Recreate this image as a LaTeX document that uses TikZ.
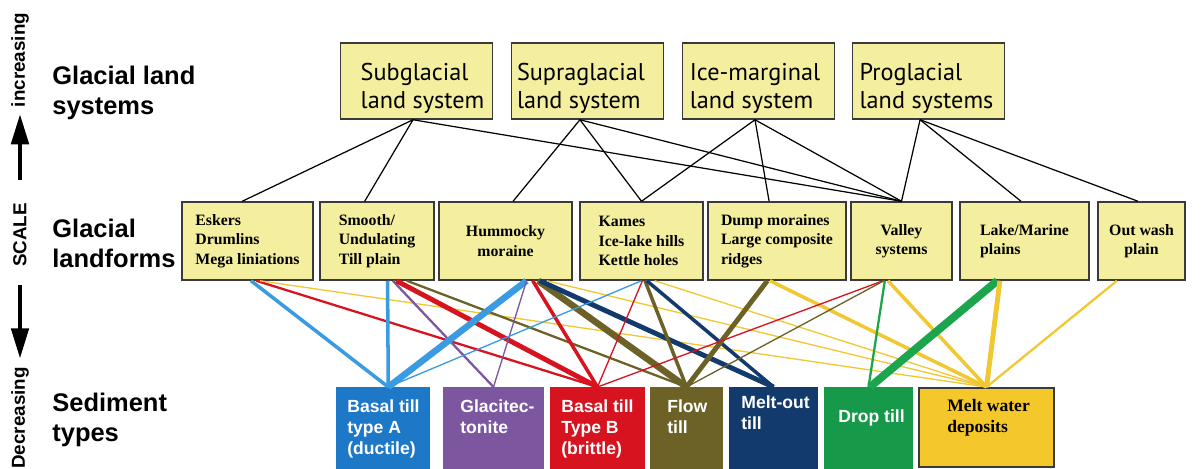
\documentclass[tikz,border=0pt]{standalone}
\usepackage{fontspec}
\setmainfont{Liberation Serif}
\setsansfont{Liberation Sans}
\newfontfamily\myriadish{PT Sans}
\usetikzlibrary{arrows.meta}

\definecolor{formfill}{HTML}{F4EF9F}
\definecolor{framegray}{HTML}{3A3A3A}
\definecolor{tillAbox}{HTML}{1E78C8}
\definecolor{tillAline}{HTML}{3A9BE0}
\definecolor{glacit}{HTML}{7D56A0}
\definecolor{tillB}{HTML}{D6131F}
\definecolor{flowtill}{HTML}{6C6127}
\definecolor{meltout}{HTML}{123A6C}
\definecolor{droptill}{HTML}{17994A}
\definecolor{dropline}{HTML}{1BA54C}
\definecolor{meltwater}{HTML}{F4C72A}
\definecolor{waterline}{HTML}{F2C832}

\tikzset{
  sysbox/.style={draw=framegray, line width=0.85pt, fill=formfill, minimum width=3.04cm, minimum height=1.52cm, inner sep=0pt},
  systext/.style={font=\myriadish\fontsize{13.8}{16}\selectfont, align=left, inner sep=0pt},
  formbox/.style={draw=framegray, line width=0.85pt, fill=formfill, minimum height=1.56cm, inner sep=0pt, font=\bfseries\fontsize{9}{11.1}\selectfont},
  sedbox/.style={minimum height=1.66cm, inner sep=0pt, anchor=north},
  sedtext/.style={font=\sffamily\bfseries\fontsize{10}{12}\selectfont, text=white, align=left, inner sep=0pt, anchor=north west},
  rowlabel/.style={font=\sffamily\bfseries\fontsize{14.5}{17}\selectfont, align=left, inner sep=0pt, anchor=west},
  scaletext/.style={font=\sffamily\bfseries\fontsize{10.7}{13}\selectfont, rotate=90, inner sep=0pt},
  scalearrow/.style={line width=1.8pt, -{Triangle[length=17pt,width=10pt]}},
  sysline/.style={line width=0.7pt, black},
  lw1/.style={line width=0.75pt},
  lw2/.style={line width=1.3pt},
  lw3/.style={line width=2pt},
  lw4/.style={line width=2.8pt},
  lw5/.style={line width=3.7pt},
  lw6/.style={line width=4.5pt}
}

\begin{document}
\begin{tikzpicture}[x=0.02cm, y=-0.02cm]
			%%%%% START %%%%%
			\useasboundingbox (0,0) rectangle (1202,468);
			\fill[white] (0,0) rectangle (1202,468);
			
			\node[scaletext] (incr) at (20,60) {increasing};
			\node[scaletext] (scl) at (20,235) {SCALE};
			\node[scaletext] (decr) at (20,418) {Decreasing};
			\draw[scalearrow, shorten <=13pt, shorten >=4pt] (scl.east) -- (incr.west);
			\draw[scalearrow, shorten <=10pt, shorten >=5pt] (scl.west) -- (decr.east);
			
			\node[rowlabel] (lsys) at (52,93) {Glacial land\\systems};
			\node[rowlabel] (lform) at (52,243) {Glacial\\landforms};
			\node[rowlabel] (lsed) at (52,420) {Sediment\\types};
			
			\node[sysbox] (sub) at (416.5,81) {};
			\node[sysbox] (sup) at (587.5,81) {};
			\node[sysbox] (ice) at (758.5,81) {};
			\node[sysbox] (pro) at (928.5,81) {};
			\node[systext] (subt) at (422.5,88.5) {Subglacial\\land system};
			\node[systext] (supt) at (581,88.5) {Supraglacial\\land system};
			\node[systext] (icet) at (755,88.5) {Ice-marginal\\land system};
			\node[systext] (prot) at (926.5,88.5) {Proglacial\\land systems};
			
			\node[formbox, minimum width=2.62cm, align=left] (esk) at (247.5,241) {Eskers\\Drumlins\\Mega liniations};
			\node[formbox, minimum width=2.28cm, align=left] (smo) at (377,241) {Smooth/\\Undulating\\Till plain};
			\node[formbox, minimum width=2.66cm, align=center] (hum) at (505.5,241) {Hummocky\\moraine};
			\node[formbox, minimum width=2.46cm, align=left] (kam) at (641.5,241) {Kames\\Ice-lake hills\\Kettle holes};
			\node[formbox, minimum width=2.76cm, align=left] (dum) at (777,241) {Dump moraines\\Large composite\\ridges};
			\node[formbox, minimum width=2.02cm, align=center] (val) at (901.5,241) {Valley\\systems};
			\node[formbox, minimum width=2.58cm, align=left] (lak) at (1024.5,241) {Lake/Marine\\plains};
			\node[formbox, minimum width=1.74cm, align=center] (out) at (1141.5,241) {Out wash\\plain};
			
			\node[sedbox, fill=tillAbox, minimum width=1.88cm] (tA) at (383,387) {};
			\node[sedbox, fill=glacit, minimum width=2.02cm] (gl) at (493.5,387) {};
			\node[sedbox, fill=tillB, minimum width=1.90cm] (tB) at (597.5,387) {};
			\node[sedbox, fill=flowtill, minimum width=1.46cm] (fl) at (686.5,387) {};
			\node[sedbox, fill=meltout, minimum width=1.78cm] (mo) at (773.5,387) {};
			\node[sedbox, fill=droptill, minimum width=1.78cm] (dr) at (868.5,387) {};
			\node[sedbox, fill=meltwater, draw=framegray, line width=1pt, minimum width=2.7cm, minimum height=1.58cm] (mw) at (986.5,387) {};
			\node[sedtext] (tAt) at (347,399) {Basal till\\type A\\(ductile)};
			\node[sedtext] (glt) at (460,399) {Glacitec-\\tonite};
			\node[sedtext] (tBt) at (561,399) {Basal till\\Type B\\(brittle)};
			\node[sedtext] (flt) at (667,399) {Flow\\till};
			\node[sedtext] (mot) at (741,395) {Melt-out\\till};
			\node[sedtext] (drt) at (838,409) {Drop till};
			\node[sedtext, font=\bfseries\fontsize{10}{12}\selectfont, text=black] (mwt) at (947,399) {Melt water\\deposits};
			
			\draw[sysline] ([xshift=-2pt]sub.south) -- ([xshift=-3pt]esk.north);
			\draw[sysline] ([xshift=-2pt]sub.south) -- ([xshift=-7pt]smo.north);
			\draw[sysline] ([xshift=-2pt]sub.south) -- (val.north);
			\draw[sysline] ([xshift=-4.3pt]sup.south) -- ([xshift=4.3pt]hum.north);
			\draw[sysline] ([xshift=-4.3pt]sup.south) -- (kam.north);
			\draw[sysline] ([xshift=-4.3pt]sup.south) -- (val.north);
			\draw[sysline] ([xshift=-2pt]ice.south) -- (kam.north);
			\draw[sysline] ([xshift=-2pt]ice.south) -- ([xshift=-4.5pt]dum.north);
			\draw[sysline] ([xshift=-2pt]ice.south) -- (val.north);
			\draw[sysline] ([xshift=-4.8pt]pro.south) -- (val.north);
			\draw[sysline] ([xshift=-4.8pt]pro.south) -- ([xshift=-2pt]lak.north);
			\draw[sysline] ([xshift=-4.8pt]pro.south) -- ([xshift=-2pt]out.north);
			
			\draw[lw3, tillAline] ([xshift=2pt]esk.south) -- ([xshift=3pt]tA.north);
			\draw[lw2, tillB] ([xshift=5pt]esk.south) -- (tB.north);
			\draw[lw1, waterline] ([xshift=7pt]esk.south) -- (mw.north);
			\draw[lw3, tillAline] ([xshift=6pt]smo.south) -- ([xshift=3pt]tA.north);
			\draw[lw2, glacit] ([xshift=9pt]smo.south) -- (gl.north);
			\draw[lw4, tillB] ([xshift=11pt]smo.south) -- (tB.north);
			\draw[lw2, flowtill] ([xshift=17pt]smo.south) -- (fl.north);
			\draw[lw5, tillAline] ([xshift=12pt]hum.south) -- ([xshift=3pt]tA.north);
			\draw[lw1, glacit] ([xshift=12pt]hum.south) -- (gl.north);
			\draw[lw3, tillB] ([xshift=15.5pt]hum.south) -- (tB.north);
			\draw[lw5, flowtill] ([xshift=18.5pt]hum.south) -- (fl.north);
			\draw[lw4, meltout] ([xshift=19.5pt]hum.south) -- (mo.north);
			\draw[lw1, waterline] ([xshift=23.5pt]hum.south) -- (mw.north);
			\draw[lw1, tillAline] (kam.south) -- ([xshift=3pt]tA.north);
			\draw[lw1, tillB] ([xshift=0.5pt]kam.south) -- (tB.north);
			\draw[lw3, flowtill] ([xshift=2pt]kam.south) -- (fl.north);
			\draw[lw3, meltout] ([xshift=3pt]kam.south) -- (mo.north);
			\draw[lw1, waterline] ([xshift=7.5pt]kam.south) -- (mw.north);
			\draw[lw4, flowtill] ([xshift=-5.5pt]dum.south) -- (fl.north);
			\draw[lw3, waterline] ([xshift=-4pt]dum.south) -- (mw.north);
			\draw[lw1, tillB] ([xshift=-10.5pt]val.south) -- (tB.north);
			\draw[lw1, flowtill] ([xshift=-10pt]val.south) -- (fl.north);
			\draw[lw2, dropline] ([xshift=-9.5pt]val.south) -- (dr.north);
			\draw[lw3, waterline] ([xshift=-7.7pt]val.south) -- (mw.north);
			\draw[lw6, dropline] ([xshift=-15.5pt]lak.south) -- ([xshift=0.8pt]dr.north);
			\draw[lw4, waterline] ([xshift=-14pt]lak.south) -- (mw.north);
			\draw[lw2, waterline] ([xshift=-14pt]out.south) -- (mw.north);
			%%%%% END %%%%%
\end{tikzpicture}
\end{document}
